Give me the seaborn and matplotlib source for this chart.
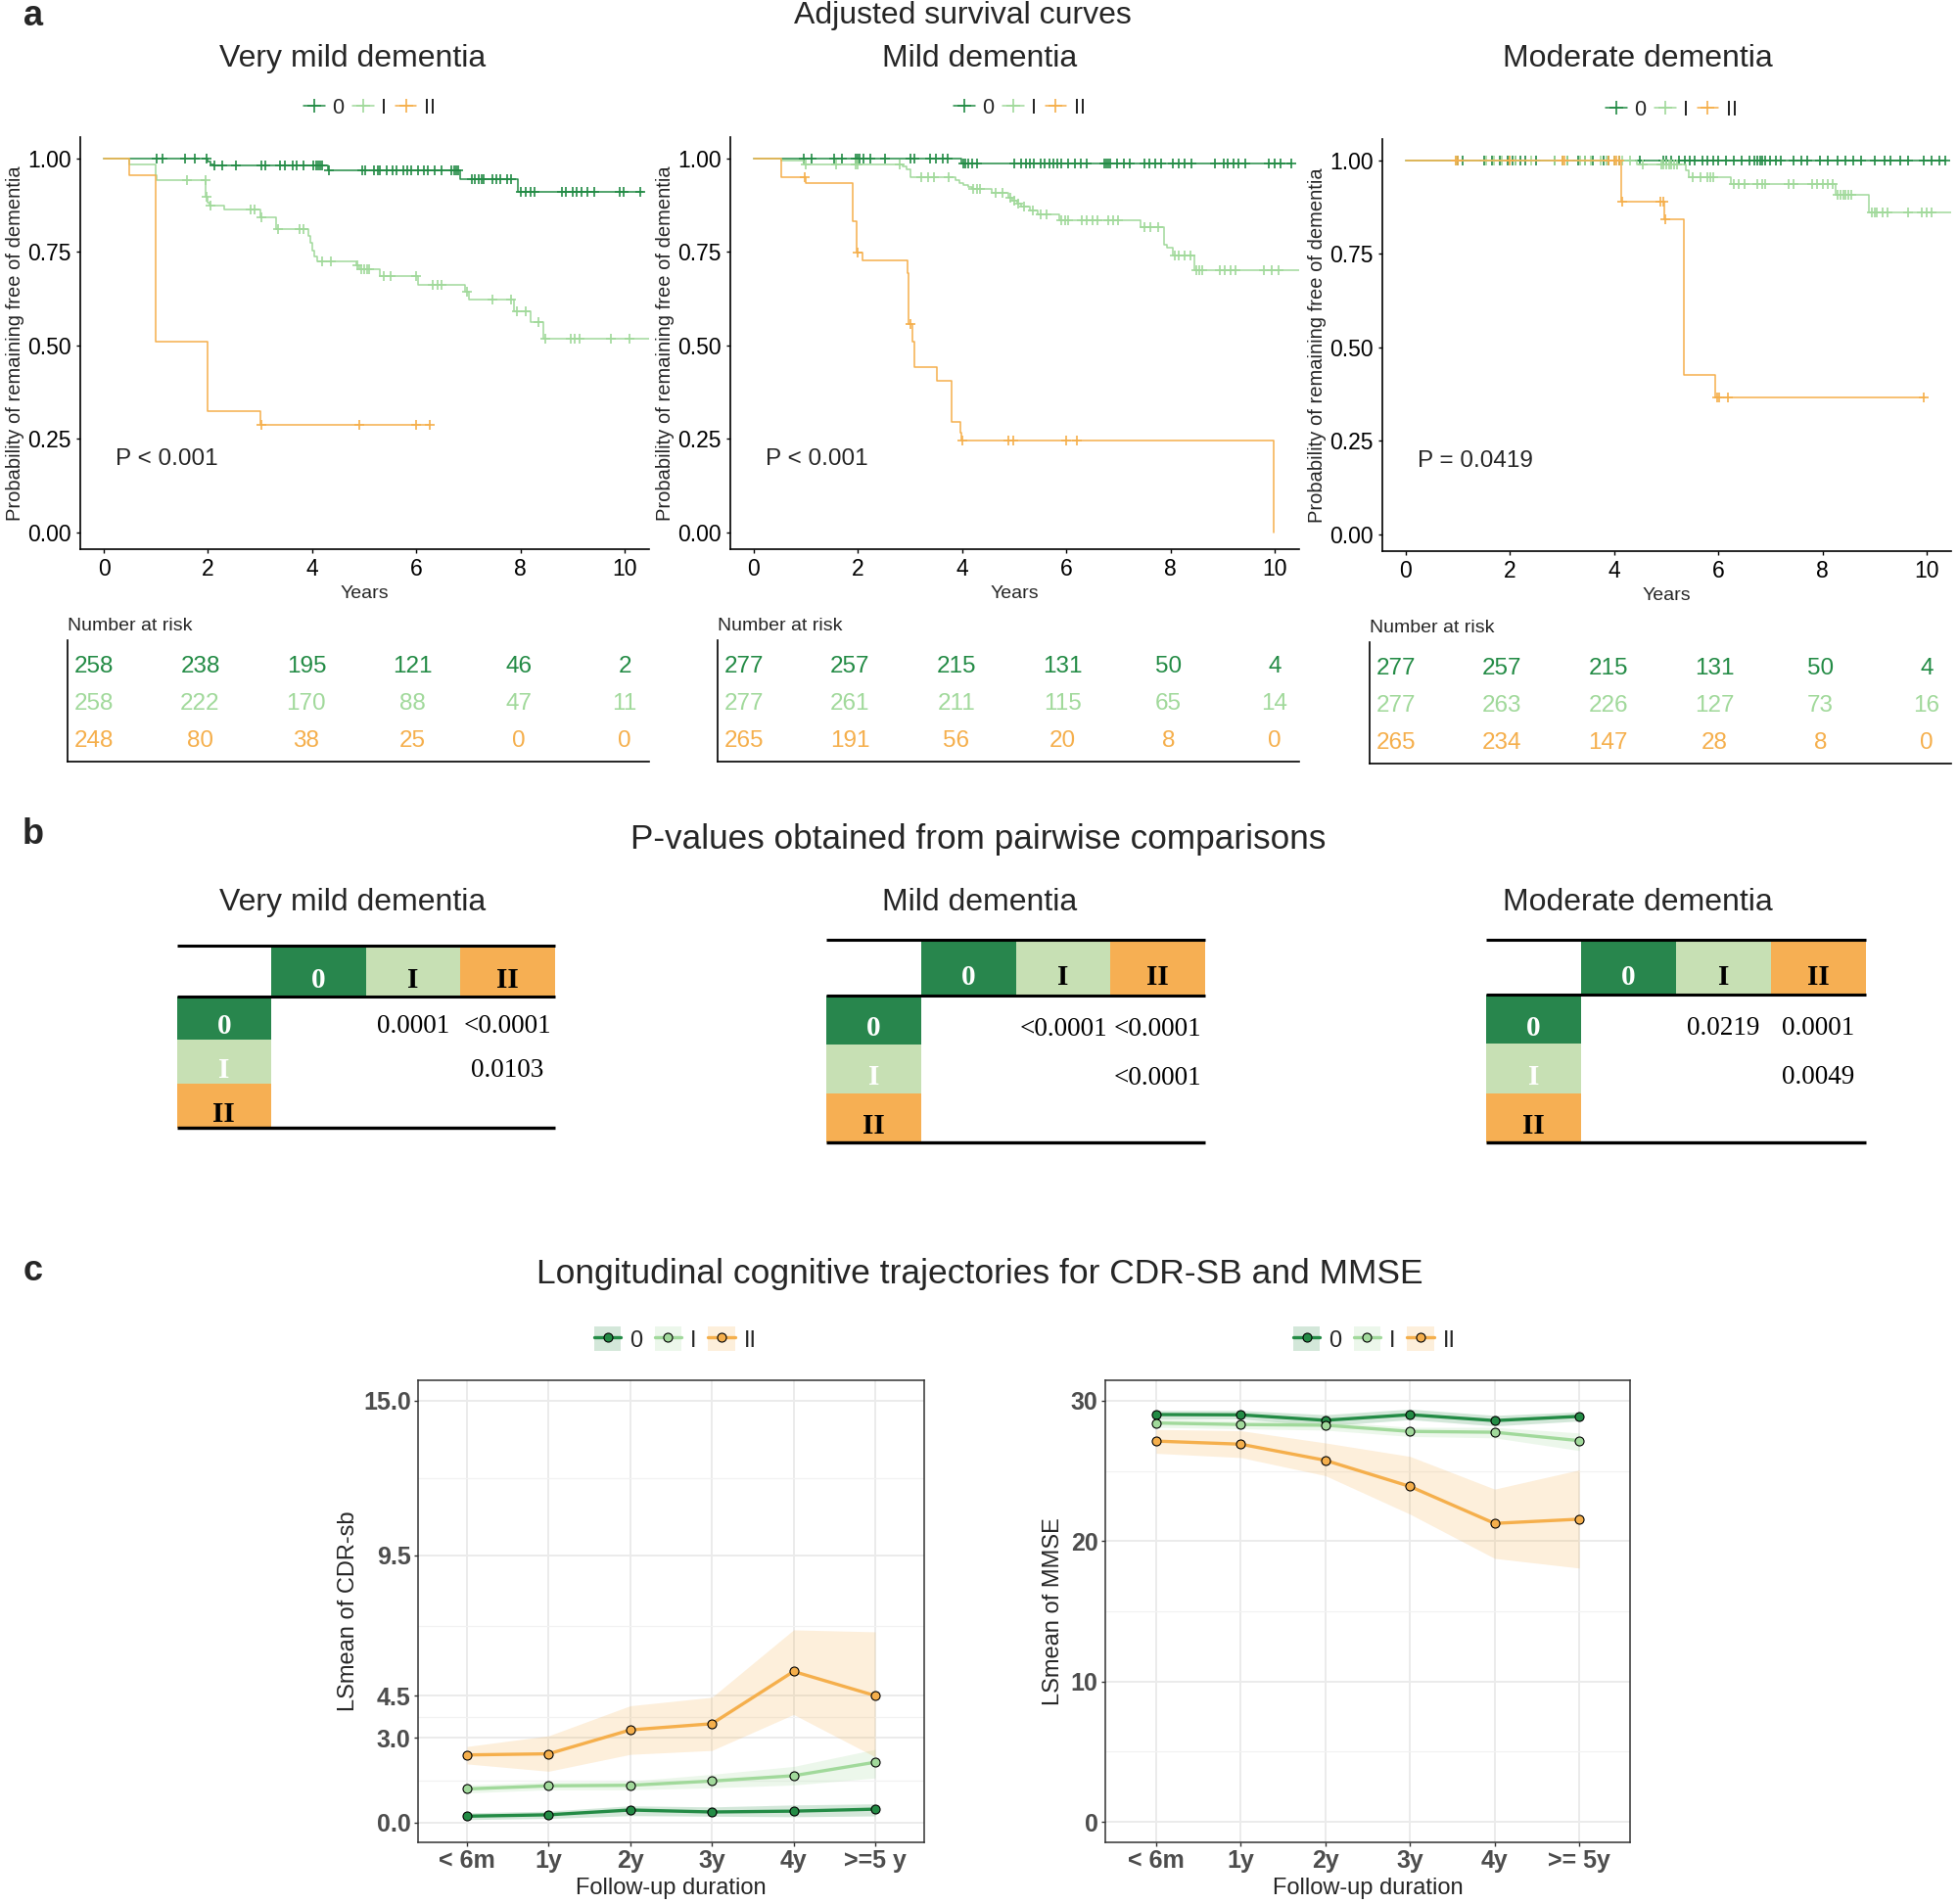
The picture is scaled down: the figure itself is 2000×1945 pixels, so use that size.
import matplotlib
matplotlib.use("Agg")
import matplotlib.pyplot as plt
import numpy as np
import pandas as pd
import seaborn as sns
from matplotlib.lines import Line2D
from matplotlib.patches import Patch, Rectangle

## DATOS

grupos = ["0", "I", "II"]
colores = {"0": "#238B45", "I": "#A1D99B", "II": "#F5AF4C"}
celdas = {"0": "#28864D", "I": "#C7E0B4", "II": "#F6AF53"}

subtitulos = ["Very mild dementia", "Mild dementia", "Moderate dementia"]
p_logrank = ["P < 0.001", "P < 0.001", "P = 0.0419"]

# curvas de Kaplan-Meier: tiempos de evento, supervivencia, fin de seguimiento, censuras
vm0_t = [0, 2.0, 2.05, 2.1, 4.3, 6.85, 7.95]
vm0_s = [1.0, 0.992, 0.985, 0.980, 0.967, 0.945, 0.910]
vm0_fin = 10.35
vm0_cens = [1.02, 1.12, 1.56, 1.75, 1.97, 2.12, 2.28, 2.53, 3.02, 3.1, 3.38, 3.48, 3.63, 3.71,
            3.83, 4.03, 4.08, 4.12, 4.16, 4.2, 4.32, 4.97, 5.01, 5.18, 5.26, 5.3, 5.44, 5.54,
            5.62, 5.75, 5.83, 5.91, 6.03, 6.15, 6.23, 6.36, 6.48, 6.68, 6.72, 6.76, 6.8,
            7.07, 7.13, 7.2, 7.25, 7.29, 7.46, 7.54, 7.62, 7.74, 7.82, 8.01, 8.11, 8.19,
            8.27, 8.8, 8.88, 9.0, 9.07, 9.17, 9.29, 9.41, 9.9, 9.98, 10.31]

vm1_t = [0, 0.49, 0.99, 1.02, 1.96, 1.99, 2.02, 2.32, 3.0, 3.3, 3.92, 3.96, 4.0, 4.04, 4.1,
         4.85, 4.9, 5.3, 6.03, 6.93, 7.01, 7.87, 8.2, 8.44]
vm1_s = [1.0, 0.985, 0.954, 0.942, 0.897, 0.882, 0.874, 0.862, 0.842, 0.81, 0.793, 0.773,
         0.753, 0.738, 0.725, 0.715, 0.703, 0.685, 0.663, 0.643, 0.623, 0.591, 0.563, 0.518]
vm1_fin = 10.47
vm1_cens = [1.59, 1.95, 1.98, 2.05, 2.81, 2.89, 3.02, 3.34, 3.75, 3.83, 4.2, 4.36, 4.87,
            4.95, 5.0, 5.05, 5.1, 5.38, 5.5, 5.99, 6.32, 6.4, 6.48, 6.97, 7.46, 7.82, 7.93,
            8.11, 8.35, 8.48, 8.96, 9.05, 9.13, 9.74, 10.1]

vm2_t = [0, 0.49, 0.99, 1.99, 3.0]
vm2_s = [1.0, 0.955, 0.51, 0.323, 0.287]
vm2_fin = 6.26
vm2_cens = [3.02, 4.9, 6.0, 6.26]

m0_t = [0, 3.99]
m0_s = [1.0, 0.987]
m0_fin = 10.33
m0_cens = [0.96, 1.11, 1.54, 1.7, 1.96, 2.0, 2.03, 2.11, 2.23, 2.52, 3.01, 3.09, 3.38, 3.5,
           3.62, 3.72, 4.03, 4.07, 4.11, 4.19, 4.28, 5.0, 5.13, 5.22, 5.3, 5.38, 5.5, 5.58,
           5.67, 5.75, 5.83, 5.91, 6.03, 6.16, 6.28, 6.4, 6.73, 6.77, 6.81, 6.85, 6.97, 7.1,
           7.22, 7.5, 7.59, 7.71, 7.83, 8.04, 8.16, 8.28, 8.41, 8.85, 9.02, 9.1, 9.22, 9.3,
           9.43, 9.88, 10.0, 10.12, 10.33]

m1_t = [0, 0.53, 0.96, 2.85, 2.93, 3.01, 3.87, 3.95, 4.03, 4.11, 4.19, 4.56, 4.89, 4.97,
        5.05, 5.13, 5.3, 5.46, 5.87, 7.42, 7.87, 7.94, 8.04, 8.46]
m1_s = [1.0, 0.994, 0.984, 0.978, 0.97, 0.95, 0.943, 0.935, 0.93, 0.924, 0.917, 0.909,
        0.896, 0.887, 0.878, 0.87, 0.861, 0.85, 0.835, 0.815, 0.77, 0.761, 0.739, 0.702]
m1_fin = 10.47
m1_cens = [1.0, 1.58, 1.95, 2.0, 2.8, 3.21, 3.34, 3.46, 3.74, 4.22, 4.28, 4.34, 4.64, 4.77,
           4.93, 5.0, 5.08, 5.18, 5.35, 5.5, 5.63, 5.9, 5.97, 6.03, 6.3, 6.4, 6.5, 6.6,
           6.8, 6.9, 7.0, 7.5, 7.62, 7.77, 8.08, 8.16, 8.28, 8.38, 8.5, 8.55, 8.62, 8.95,
           9.05, 9.15, 9.25, 9.8, 9.95, 10.08]

m2_t = [0, 0.53, 0.99, 1.9, 1.97, 2.09, 2.95, 2.98, 3.05, 3.08, 3.52, 3.8, 3.97, 3.99, 9.98]
m2_s = [1.0, 0.95, 0.933, 0.832, 0.748, 0.726, 0.694, 0.556, 0.509, 0.443, 0.404, 0.296,
        0.266, 0.245, 0.0]
m2_fin = 9.98
m2_cens = [0.97, 1.99, 3.01, 4.0, 4.89, 4.99, 5.99, 6.2]

mo0_t = [0]
mo0_s = [1.0]
mo0_fin = 10.35
mo0_cens = [1.0, 1.1, 1.5, 1.65, 1.8, 1.95, 2.05, 2.1, 2.2, 2.3, 2.5, 2.85, 3.0, 3.1, 3.3,
            3.45, 3.6, 3.8, 3.9, 4.0, 4.1, 4.5, 4.95, 5.0, 5.1, 5.25, 5.35, 5.45, 5.55, 5.7,
            5.8, 5.9, 6.0, 6.15, 6.3, 6.45, 6.6, 6.7, 6.75, 6.8, 6.85, 6.9, 7.0, 7.1, 7.2,
            7.45, 7.6, 7.7, 7.95, 8.1, 8.3, 8.45, 8.6, 8.75, 9.0, 9.2, 9.3, 9.5, 9.65, 9.95,
            10.1, 10.25, 10.35]

mo1_t = [0, 4.44, 5.37, 5.43, 6.25, 8.26, 8.9]
mo1_s = [1.0, 0.989, 0.972, 0.954, 0.937, 0.908, 0.861]
mo1_fin = 10.48
mo1_cens = [0.95, 1.55, 1.7, 1.85, 2.0, 2.1, 2.4, 2.85, 3.0, 3.1, 3.35, 3.45, 3.55, 3.75,
            3.85, 4.0, 4.15, 4.3, 4.55, 4.9, 4.95, 5.0, 5.05, 5.1, 5.15, 5.2, 5.5, 5.65,
            5.8, 5.85, 5.9, 6.3, 6.4, 6.5, 6.75, 6.85, 6.9, 7.35, 7.45, 7.8, 7.9, 8.0, 8.1,
            8.2, 8.3, 8.35, 8.4, 8.45, 8.5, 8.55, 8.95, 9.0, 9.05, 9.15, 9.25, 9.65, 9.9,
            10.0, 10.1]

mo2_t = [0, 4.14, 4.97, 5.34, 5.94]
mo2_s = [1.0, 0.89, 0.843, 0.426, 0.367]
mo2_fin = 9.97
mo2_cens = [0.95, 1.0, 2.0, 3.0, 3.05, 3.9, 4.0, 4.05, 4.1, 4.16, 4.88, 4.94, 4.99, 5.98,
            6.02, 6.19, 9.95]

# numero en riesgo
tiempos_riesgo = [0, 2, 4, 6, 8, 10]
riesgo_vm = [[258, 238, 195, 121, 46, 2], [258, 222, 170, 88, 47, 11], [248, 80, 38, 25, 0, 0]]
riesgo_m = [[277, 257, 215, 131, 50, 4], [277, 261, 211, 115, 65, 14], [265, 191, 56, 20, 8, 0]]
riesgo_mo = [[277, 257, 215, 131, 50, 4], [277, 263, 226, 127, 73, 16], [265, 234, 147, 28, 8, 0]]

# p-valores por pares (fila, columna)
p_vm = [["", "0.0001", "<0.0001"], ["", "", "0.0103"], ["", "", ""]]
p_m = [["", "<0.0001", "<0.0001"], ["", "", "<0.0001"], ["", "", ""]]
p_mo = [["", "0.0219", "0.0001"], ["", "", "0.0049"], ["", "", ""]]

# trayectorias longitudinales
etiq_cdr = ["< 6m", "1y", "2y", "3y", "4y", ">=5 y"]
etiq_mmse = ["< 6m", "1y", "2y", "3y", "4y", ">= 5y"]

cdr_0 = [0.22, 0.27, 0.44, 0.37, 0.40, 0.47]
cdr_0_inf = [0.10, 0.14, 0.24, 0.22, 0.20, 0.23]
cdr_0_sup = [0.34, 0.40, 0.59, 0.55, 0.62, 0.66]
cdr_1 = [1.19, 1.30, 1.32, 1.47, 1.66, 2.14]
cdr_1_inf = [1.05, 1.16, 1.16, 1.23, 1.33, 1.58]
cdr_1_sup = [1.33, 1.44, 1.47, 1.71, 1.99, 2.60]
cdr_2 = [2.40, 2.44, 3.29, 3.51, 5.37, 4.51]
cdr_2_inf = [2.08, 1.82, 2.42, 2.56, 3.84, 2.33]
cdr_2_sup = [2.70, 3.08, 4.15, 4.45, 6.85, 6.78]

mm_0 = [29.01, 28.99, 28.6, 29.0, 28.58, 28.88]
mm_0_inf = [28.7, 28.7, 28.2, 28.65, 28.2, 28.55]
mm_0_sup = [29.3, 29.3, 29.0, 29.4, 28.95, 29.2]
mm_1 = [28.41, 28.30, 28.25, 27.81, 27.75, 27.15]
mm_1_inf = [28.1, 28.0, 27.9, 27.45, 27.35, 26.45]
mm_1_sup = [28.7, 28.6, 28.55, 28.1, 28.1, 27.7]
mm_2 = [27.12, 26.9, 25.75, 23.89, 21.26, 21.56]
mm_2_inf = [26.25, 25.95, 24.66, 21.92, 18.77, 18.08]
mm_2_sup = [27.95, 27.86, 26.99, 26.03, 23.7, 25.07]


## FIGURA

sns.set_style("white")
plt.rcParams["font.family"] = ["Liberation Sans", "DejaVu Sans"]
SERIF = ["Liberation Serif", "DejaVu Serif"]

W, H = 2000, 1945
fig = plt.figure(figsize=(W / 100, H / 100), dpi=100)

capa = fig.add_axes([0, 0, 1, 1])
capa.set_xlim(0, W)
capa.set_ylim(H, 0)
capa.axis("off")


def ejes_px(x0, y0, x1, y1):
    return fig.add_axes([x0 / W, 1 - y1 / H, (x1 - x0) / W, (y1 - y0) / H])


def dibujar_km(ax, curvas):
    for g, (t, s, fin, cens) in zip(grupos, curvas):
        tt = list(t) + [fin]
        ss = list(s) + [s[-1]]
        sns.lineplot(x=tt, y=ss, ax=ax, drawstyle="steps-post", color=colores[g],
                     lw=1.1, estimator=None, sort=False)
        idx = np.searchsorted(t, cens, side="right") - 1
        ax.plot(cens, np.array(s)[idx], ls="none", marker="+", ms=7, mew=1.2,
                color=colores[g])
    ax.set_xlim(-0.46, 10.47)
    ax.set_ylim(-0.045, 1.057)
    ax.set_xticks([0, 2, 4, 6, 8, 10])
    ax.set_yticks([0, 0.25, 0.5, 0.75, 1.0], labels=["0.00", "0.25", "0.50", "0.75", "1.00"])
    ax.tick_params(axis="both", labelsize=16.5, length=2.8, width=1.0, color="black",
                   labelcolor="black", pad=3.5, left=True, bottom=True)
    for lado in ["top", "right"]:
        ax.spines[lado].set_visible(False)
    for lado in ["left", "bottom"]:
        ax.spines[lado].set_linewidth(1.2)
        ax.spines[lado].set_color("black")
    ax.set_xlabel("Years", fontsize=14, labelpad=4)
    ax.set_ylabel("Probability of remaining free of dementia", fontsize=14.5, labelpad=2)


def tabla_riesgo(ax, valores):
    for i, g in enumerate(grupos):
        for t, v in zip(tiempos_riesgo, valores[i]):
            ax.text(t, 2 - i, str(v), color=colores[g], fontsize=17.5, ha="center", va="center")
    ax.set_xlim(-0.5, 10.46)
    ax.set_ylim(-0.545, 2.715)
    ax.set_xticks([])
    ax.set_yticks([])
    for lado in ["top", "right"]:
        ax.spines[lado].set_visible(False)
    for lado in ["left", "bottom"]:
        ax.spines[lado].set_linewidth(1.2)
        ax.spines[lado].set_color("black")


## PANEL a

curvas_km = [
    [(vm0_t, vm0_s, vm0_fin, vm0_cens), (vm1_t, vm1_s, vm1_fin, vm1_cens), (vm2_t, vm2_s, vm2_fin, vm2_cens)],
    [(m0_t, m0_s, m0_fin, m0_cens), (m1_t, m1_s, m1_fin, m1_cens), (m2_t, m2_s, m2_fin, m2_cens)],
    [(mo0_t, mo0_s, mo0_fin, mo0_cens), (mo1_t, mo1_s, mo1_fin, mo1_cens), (mo2_t, mo2_s, mo2_fin, mo2_cens)],
]
riesgos = [riesgo_vm, riesgo_m, riesgo_mo]
izq_km = [81.6, 745.5, 1411.5]
dy_km = [0, 0, 2]
centros_sub = [360, 1001, 1673]

capa.text(34, 16, "a", fontsize=26, fontweight="bold", ha="center", va="center")
capa.text(983, 16, "Adjusted survival curves", fontsize=23, ha="center", va="center")

for k in range(3):
    x0 = izq_km[k]
    dy = dy_km[k]
    ax = ejes_px(x0, 140 + dy, x0 + 581.4, 561 + dy)
    dibujar_km(ax, curvas_km[k])
    ax.text(0.23, 0.195, p_logrank[k], fontsize=17.5, ha="left", va="center")

    capa.text(centros_sub[k], 60, subtitulos[k], fontsize=23, ha="center", va="center")
    manejadores = [Line2D([], [], color=colores[g], lw=1.1, marker="+", ms=10, mew=1.2)
                   for g in grupos]
    fig.legend(manejadores, grupos, ncol=3, frameon=False, fontsize=15.5, loc="center",
               bbox_to_anchor=((x0 + 296) / W, 1 - (110 + dy) / H),
               handlelength=1.0, handletextpad=0.35, columnspacing=0.4, borderpad=0)

    axr = ejes_px(x0 - 12.6, 654 + dy, x0 + 581.4, 778 + dy)
    tabla_riesgo(axr, riesgos[k])
    capa.text(x0 - 12.6, 640 + dy, "Number at risk", fontsize=14, ha="left", va="center")


## PANEL b

capa.text(34, 852, "b", fontsize=26, fontweight="bold", ha="center", va="center")
capa.text(999, 857, "P-values obtained from pairwise comparisons", fontsize=25.3,
          ha="center", va="center")
for k in range(3):
    capa.text(centros_sub[k], 922, subtitulos[k], fontsize=23, ha="center", va="center")

texto_cab = {"0": "white", "I": "black", "II": "black"}
texto_fila = {"0": "white", "I": "white", "II": "black"}


def tabla_p(x0, y_sup, alto_cab, alto_fila, ancho, valores):
    for j, g in enumerate(grupos):
        capa.add_patch(Rectangle((x0 + (j + 1) * ancho, y_sup), ancho, alto_cab,
                                 facecolor=celdas[g], edgecolor="none"))
        capa.text(x0 + (j + 1.5) * ancho, y_sup + alto_cab / 2 + 10, g, color=texto_cab[g],
                  fontsize=21, fontweight="bold", family=SERIF, ha="center", va="center")
    for i, g in enumerate(grupos):
        y = y_sup + alto_cab + i * alto_fila
        capa.add_patch(Rectangle((x0, y), ancho, alto_fila, facecolor=celdas[g],
                                 edgecolor="none"))
        capa.text(x0 + ancho / 2, y + alto_fila / 2 + 9, g, color=texto_fila[g],
                  fontsize=21, fontweight="bold", family=SERIF, ha="center", va="center")
        for j, v in enumerate(valores[i]):
            if v:
                capa.text(x0 + (j + 1.5) * ancho, y + alto_fila / 2 + 9, v, color="black",
                          fontsize=19.5, family=SERIF, ha="center", va="center")
    y_inf = y_sup + alto_cab + 3 * alto_fila
    for yy, grosor in [(y_sup, 2.2), (y_sup + alto_cab, 2.2), (y_inf, 2.4)]:
        capa.plot([x0, x0 + 4 * ancho], [yy, yy], color="black", lw=grosor,
                  solid_capstyle="butt")


tabla_p(180.5, 966, 51.5, 44.8, 96.6, p_vm)
tabla_p(844, 960, 57, 50, 96.8, p_m)
tabla_p(1518, 960, 56, 50.3, 97, p_mo)


## PANEL c

capa.text(34, 1299, "c", fontsize=26, fontweight="bold", ha="center", va="center")
capa.text(1001, 1302, "Longitudinal cognitive trajectories for CDR-SB and MMSE", fontsize=25.5,
          ha="center", va="center")


def panel_traj(ax, etiquetas, medias, inferiores, superiores, ylim, yticks, ylabs, ymenor,
               ylabel, ypad):
    filas = []
    for g, m in zip(grupos, medias):
        for e, v in zip(etiquetas, m):
            filas.append({"seguimiento": e, "grupo": g, "lsmean": v})
    df = pd.DataFrame(filas)
    pos = np.arange(len(etiquetas))
    for g, lo, hi in zip(grupos, inferiores, superiores):
        ax.fill_between(pos, lo, hi, color=colores[g], alpha=0.2, lw=0, zorder=1)
    sns.lineplot(data=df, x="seguimiento", y="lsmean", hue="grupo", hue_order=grupos,
                 palette=colores, marker="o", markersize=6.5, markeredgecolor="black",
                 markeredgewidth=0.8, lw=2.4, sort=False, legend=False, ax=ax, zorder=3)
    ax.set_xlim(-0.6, len(etiquetas) - 0.4)
    ax.set_ylim(*ylim)
    ax.set_xticks(pos, labels=etiquetas, fontweight="bold")
    ax.set_yticks(yticks, labels=ylabs, fontweight="bold")
    ax.set_yticks(ymenor, minor=True)
    ax.grid(which="major", color="#EBEBEB", lw=1.4)
    ax.grid(which="minor", axis="y", color="#F2F2F2", lw=0.9)
    ax.set_axisbelow(True)
    ax.tick_params(which="major", labelsize=18, labelcolor="#4D4D4D", color="#333333",
                   length=2.8, width=1.0, pad=2.5, left=True, bottom=True)
    ax.tick_params(which="minor", length=0)
    for lado in ax.spines.values():
        lado.set_color("#333333")
        lado.set_linewidth(1.1)
    ax.set_xlabel("Follow-up duration", fontsize=17, labelpad=3.5)
    ax.set_ylabel(ylabel, fontsize=17, labelpad=ypad)


ax_cdr = ejes_px(427, 1410, 944, 1882)
panel_traj(ax_cdr, etiq_cdr, [cdr_0, cdr_1, cdr_2], [cdr_0_inf, cdr_1_inf, cdr_2_inf],
           [cdr_0_sup, cdr_1_sup, cdr_2_sup], (-0.71, 15.73), [0, 3, 4.5, 9.5, 15],
           ["0.0", "3.0", "4.5", "9.5", "15.0"], [1.5, 3.75, 7.0, 12.25],
           "LSmean of CDR-sb", 3)

ax_mm = ejes_px(1129, 1410, 1665, 1882)
panel_traj(ax_mm, etiq_mmse, [mm_0, mm_1, mm_2], [mm_0_inf, mm_1_inf, mm_2_inf],
           [mm_0_sup, mm_1_sup, mm_2_sup], (-1.45, 31.45), [0, 10, 20, 30],
           ["0", "10", "20", "30"], [5, 15, 25], "LSmean of MMSE", 5)

for centro in [690, 1404]:
    manejadores = [(Patch(facecolor=colores[g], alpha=0.2, edgecolor="none"),
                    Line2D([], [], color=colores[g], lw=2.4, marker="o", ms=6.5,
                           markerfacecolor=colores[g], markeredgecolor="black",
                           markeredgewidth=0.8))
                   for g in grupos]
    fig.legend(manejadores, grupos, ncol=3, frameon=False, fontsize=17, loc="center",
               bbox_to_anchor=(centro / W, 1 - 1368 / H), handlelength=1.15,
               handleheight=1.25, handletextpad=0.4, columnspacing=0.5, borderpad=0)

fig.savefig("out.png", dpi=100)
